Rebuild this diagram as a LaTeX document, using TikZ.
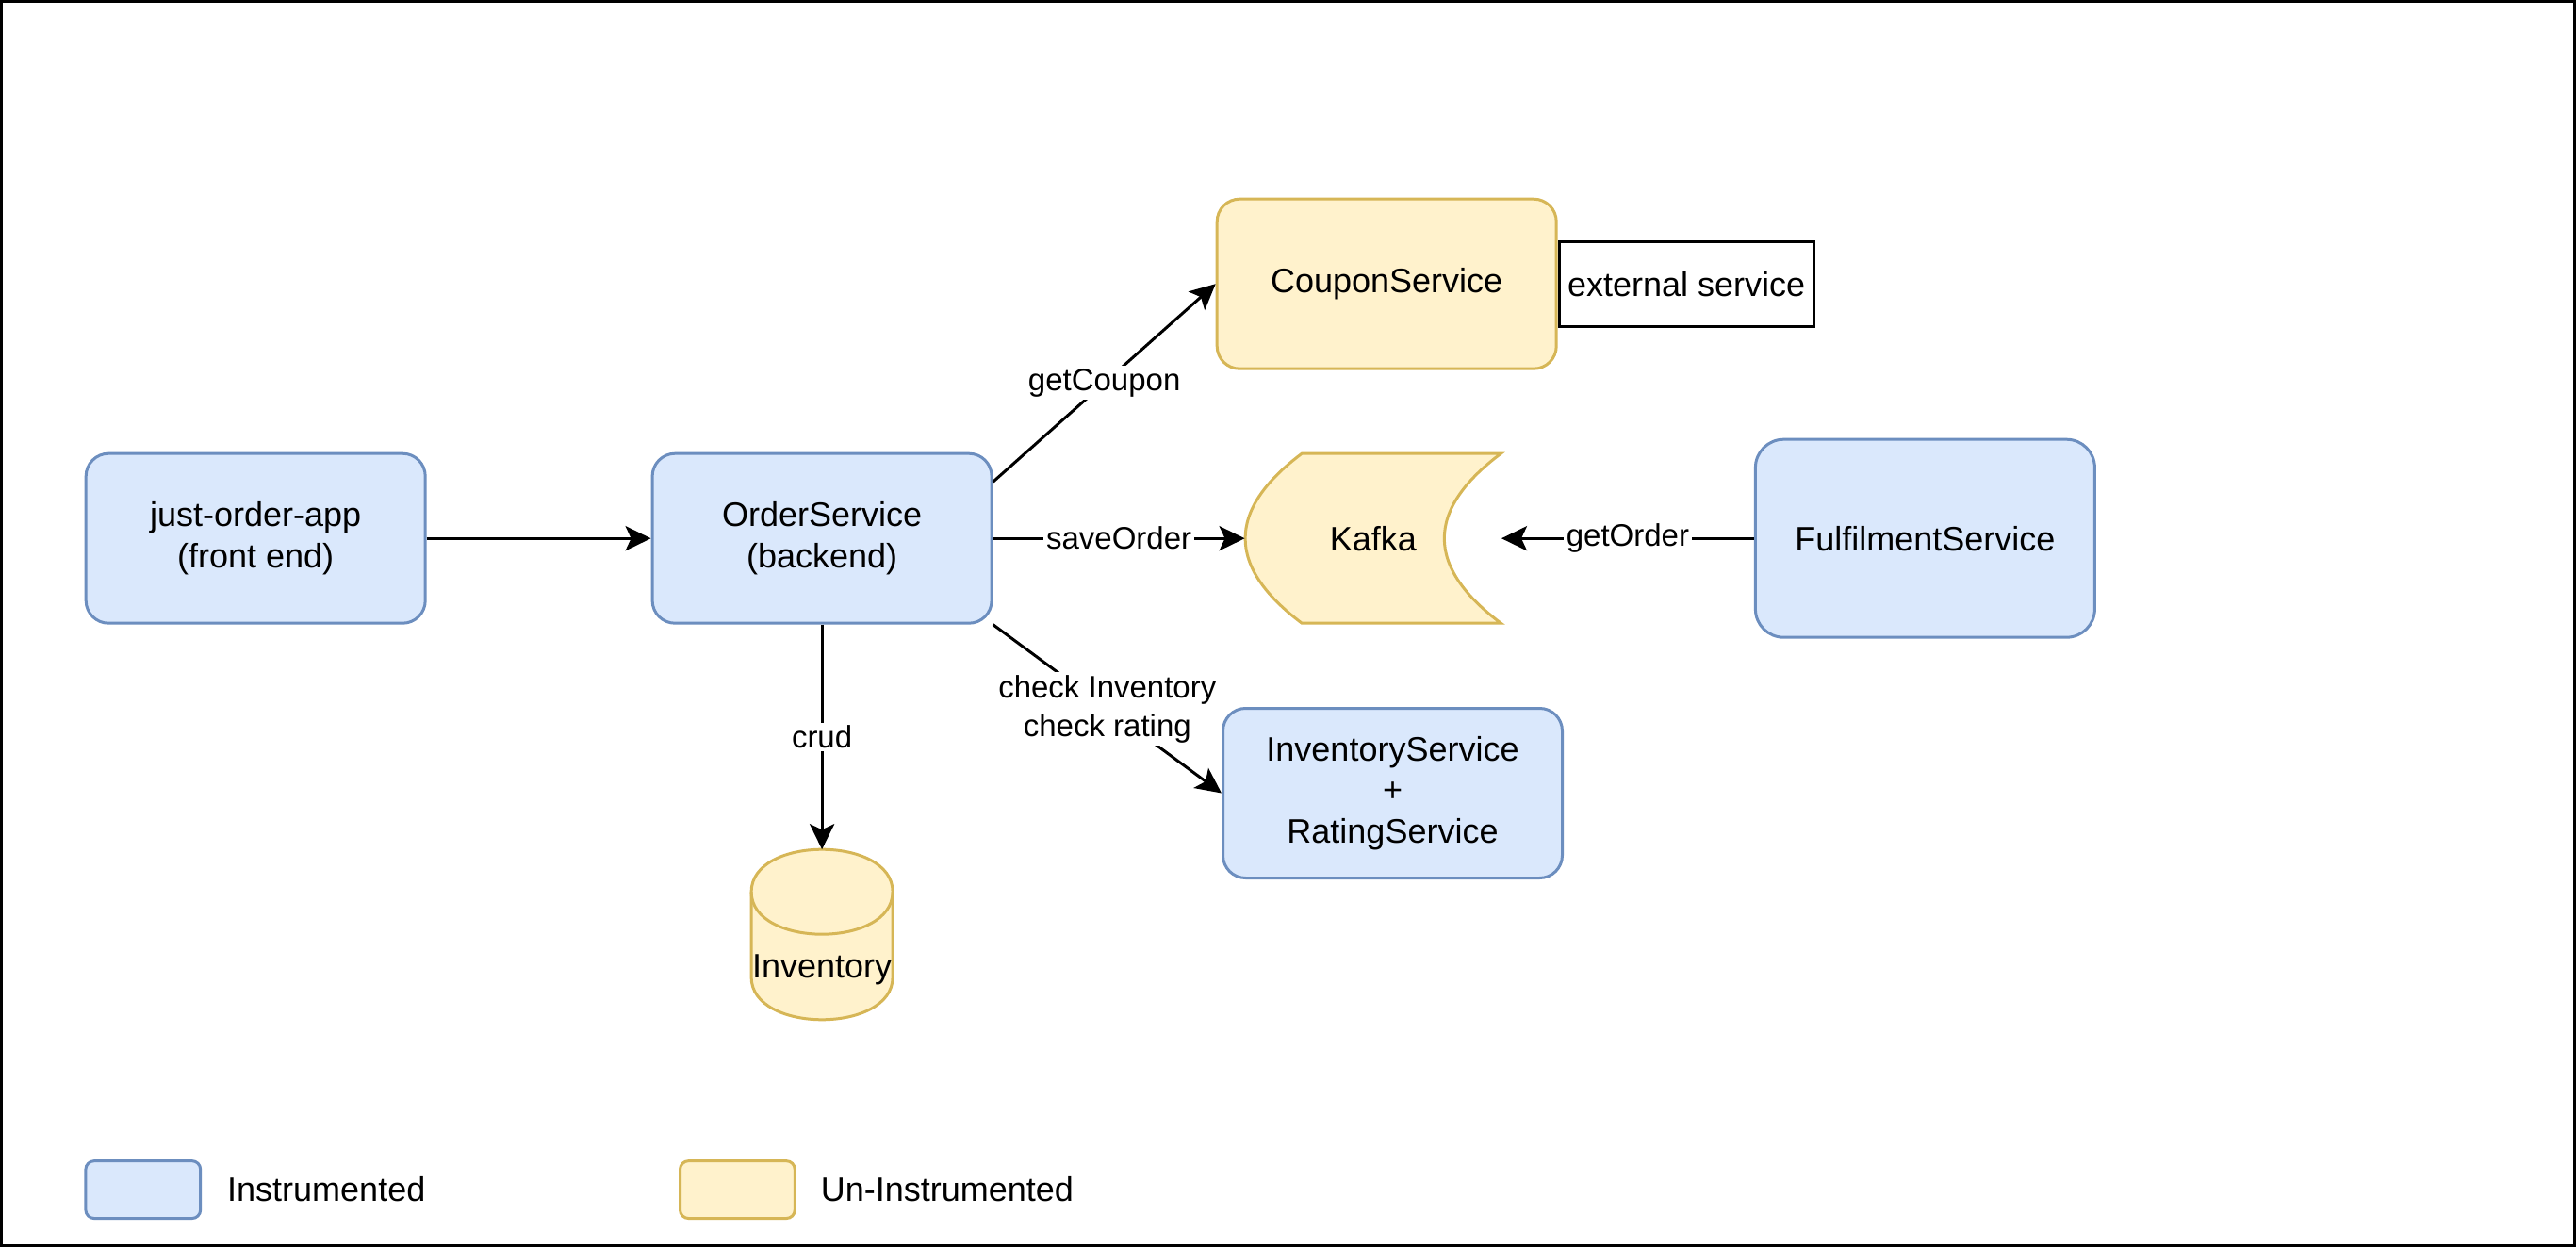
\documentclass[tikz,border=0pt]{standalone}
\usepackage{fontspec}
\setmainfont{Liberation Sans}
\usetikzlibrary{arrows.meta,positioning}

\definecolor{instfill}{HTML}{DAE8FC}
\definecolor{instdraw}{HTML}{6C8EBF}
\definecolor{uninstfill}{HTML}{FFF2CC}
\definecolor{uninstdraw}{HTML}{D6B656}

\begin{document}
\begin{tikzpicture}[x=1pt, y=-1pt,
	txt/.style={font=\fontsize{12}{14.4}\selectfont, align=center},
	lbl/.style={font=\fontsize{11}{13.6}\selectfont, align=center, fill=white, inner sep=1pt},
	box/.style={line width=1pt, rounded corners=8pt, minimum width=120pt, minimum height=60pt, inner sep=0pt},
	inst/.style={box, draw=instdraw, fill=instfill},
	uninst/.style={box, draw=uninstdraw, fill=uninstfill},
	pfeil/.style={-{Stealth[length=9pt, width=8.7pt, inset=2pt]}, line width=1pt}]
	\useasboundingbox (0,0) rectangle (911,441); % feste Groesse
	\draw[line width=1pt] (0.5,0.5) rectangle (910.5,440.5); % Rahmen
	
	\node[inst, txt] (app) at (90.4,190.4) {just-order-app\\(front end)};
	\node[inst, txt] (order) at (290.7,190.4) {OrderService\\(backend)};
	\node[uninst, txt] (coupon) at (490.4,100.4) {CouponService};
	\node[draw, line width=1pt, minimum width=90pt, minimum height=30pt, inner sep=0pt, txt, right=0pt of coupon] (extern) {external service};
	\node[inst, txt, minimum height=70pt, rounded corners=10pt] (fulfil) at (680.8,190.4) {FulfilmentService};
	\node[inst, txt] (invsvc) at (492.5,280.5) {InventoryService\\+\\RatingService};
	
	% Kafka Speicherform
	\draw[line width=1pt, draw=uninstdraw, fill=uninstfill] (460.4,160.4) -- (530.8,160.4)
		.. controls (504.1,180.4) and (504.1,200.4) .. (530.8,220.4) -- (460.4,220.4)
		.. controls (433.7,200.4) and (433.7,180.4) .. (460.4,160.4) -- cycle;
	\node[txt, minimum width=90.4pt, minimum height=60pt, inner sep=0pt] (kafka) at (485.6,190.4) {Kafka};
	
	% Datenbank Zylinder
	\draw[line width=1pt, draw=uninstdraw, fill=uninstfill] (265.7,315.4)
		.. controls (265.7,295.4) and (315.7,295.4) .. (315.7,315.4) -- (315.7,345.6)
		.. controls (315.7,365.6) and (265.7,365.6) .. (265.7,345.6) -- cycle;
	\draw[line width=1pt, draw=uninstdraw] (265.7,315.4) .. controls (265.7,335.4) and (315.7,335.4) .. (315.7,315.4);
	\coordinate (dbtop) at (290.7,300.4);
	\node[txt, inner sep=0pt] (db) at (290.7,343) {Inventory};
	
	% Pfeile
	\draw[pfeil] (app) -- (order);
	\draw[pfeil] ([yshift=20pt]order.east) -- node[lbl] {getCoupon} (coupon.west);
	\draw[pfeil] (order) -- node[lbl] {saveOrder} (kafka);
	\draw[pfeil] (fulfil) -- node[lbl] {getOrder} (kafka);
	\draw[pfeil] (order) -- node[lbl] {crud} (dbtop);
	\draw[pfeil] (order.south east) -- node[lbl] {check Inventory\\check rating} (invsvc.west);
	
	% Legende
	\node[inst, minimum width=40.6pt, minimum height=20.3pt, rounded corners=3pt] (leginst) at (50.6,420.7) {};
	\node[txt, inner sep=0pt, anchor=west] (leginsttxt) at (80.2,420.7) {Instrumented};
	\node[uninst, minimum width=40.6pt, minimum height=20.3pt, rounded corners=3pt] (leguninst) at (260.8,420.7) {};
	\node[txt, inner sep=0pt, anchor=west] (leguninsttxt) at (290.1,420.7) {Un-Instrumented};
\end{tikzpicture}
\end{document}
